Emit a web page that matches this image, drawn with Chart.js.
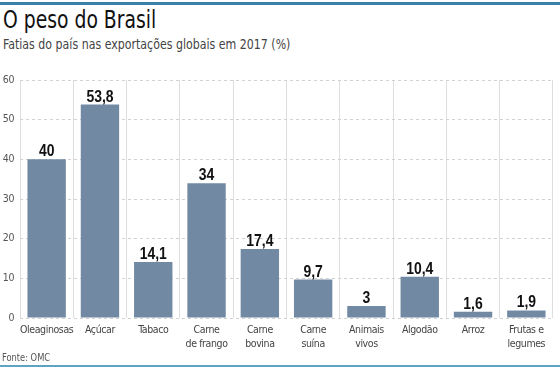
<!DOCTYPE html>
<html><head><meta charset="utf-8">
<script src="https://cdn.jsdelivr.net/npm/chart.js@4"></script>
<style>
html,body{margin:0;padding:0;background:#fff;width:560px;height:368px;overflow:hidden;}
#wrap{position:relative;width:560px;height:368px;}
.topline{position:absolute;left:0;top:2px;width:560px;height:3px;background:#3a80a8;}
.botline{position:absolute;left:0;top:365px;width:560px;height:2px;background:#5fa3c2;}
.t{position:absolute;font-family:"DejaVu Sans Condensed","DejaVu Sans",sans-serif;white-space:nowrap;transform-origin:0 0;}
.title{left:3px;top:5px;font-size:25px;color:#111;transform:scaleX(0.835);}
.sub{left:3px;top:36px;font-size:14.5px;color:#444;transform:scaleX(0.845);}
.src{left:2px;top:351px;font-size:11px;color:#555;transform:scaleX(0.84);}
canvas{position:absolute;left:0;top:0;}
</style></head>
<body><div id="wrap">
<div class="topline"></div>
<div class="t title">O peso do Brasil</div>
<div class="t sub">Fatias do país nas exportações globais em 2017 (%)</div>
<canvas id="c" width="560" height="368"></canvas>
<div class="t src">Fonte: OMC</div>
<div class="botline"></div>
</div>
<script>
const categories = [["Oleaginosas"],["Açúcar"],["Tabaco"],["Carne","de frango"],["Carne","bovina"],["Carne","suína"],["Animais","vivos"],["Algodão"],["Arroz"],["Frutas e","legumes"]];
const values = [40, 53.8, 14.1, 34, 17.4, 9.7, 3, 10.4, 1.6, 1.9];
const valueLabels = ["40","53,8","14,1","34","17,4","9,7","3","10,4","1,6","1,9"];
const yTicks = [0, 10, 20, 30, 40, 50, 60];

const FONT = '"DejaVu Sans Condensed","DejaVu Sans",sans-serif';

const spacingPlugin = {
  id: 'spacing',
  beforeDraw(chart) { chart.ctx.letterSpacing = '-0.4px'; },
  afterDraw(chart) { chart.ctx.letterSpacing = '0px'; }
};

const labelPlugin = {
  id: 'valueLabels',
  afterDatasetsDraw(chart) {
    const ctx = chart.ctx;
    const meta = chart.getDatasetMeta(0);
    meta.data.forEach((bar, i) => {
      ctx.save();
      ctx.letterSpacing = '0px';
      ctx.font = 'bold 17px "Liberation Sans", Arial, sans-serif';
      ctx.fillStyle = '#111';
      ctx.textAlign = 'center';
      ctx.textBaseline = 'alphabetic';
      ctx.translate(bar.x, bar.y - 3);
      ctx.scale(0.82, 1);
      ctx.fillText(valueLabels[i], 0, 0);
      ctx.restore();
    });
  }
};

new Chart(document.getElementById('c'), {
  type: 'bar',
  data: {
    labels: categories,
    datasets: [{
      data: values,
      backgroundColor: '#7189a3',
      borderWidth: 0,
      categoryPercentage: 1,
      barPercentage: 0.72
    }]
  },
  options: {
    responsive: false,
    animation: false,
    events: [],
    layout: { padding: { left: 0, right: 7, top: 80, bottom: 18 } },
    plugins: { legend: { display: false }, tooltip: { enabled: false }, title: { display: false } },
    scales: {
      x: {
        offset: true,
        grid: { display: true, offset: true, color: '#dedede', lineWidth: 1, drawTicks: false },
        border: { display: false },
        ticks: { color: '#444', font: { family: FONT, size: 10.5, lineHeight: 1.35 }, padding: 5, maxRotation: 0, autoSkip: false },
        afterFit(scale) { scale.height = 32; }
      },
      y: {
        min: 0, max: 60,
        afterBuildTicks(scale) { scale.ticks = yTicks.map(v => ({ value: v })); },
        grid: { color: '#d2d2d2', lineWidth: 1, drawTicks: false },
        border: { display: false, dash: [3, 3] },
        ticks: { color: '#555', font: { family: FONT, size: 10.5 }, padding: 6 },
        afterFit(scale) { scale.width = 20; }
      }
    }
  },
  plugins: [spacingPlugin, labelPlugin]
});
</script>
</body></html>
